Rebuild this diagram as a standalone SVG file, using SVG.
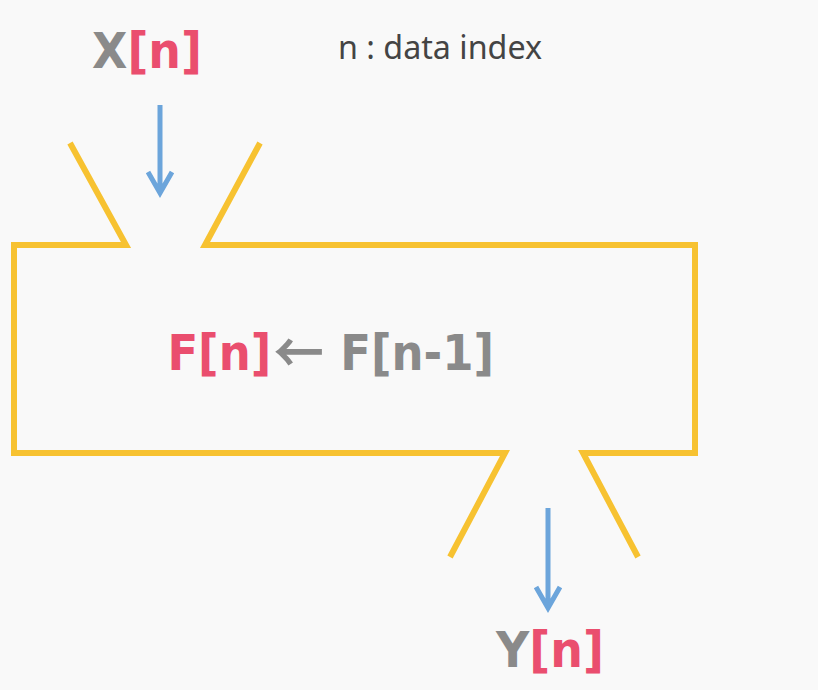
<svg xmlns="http://www.w3.org/2000/svg" width="818" height="690" viewBox="0 0 818 690">
<style>
.frame{fill:none;stroke:#F7C231;stroke-width:6;stroke-linejoin:miter}
.flow{fill:none;stroke:#6CA5DB;stroke-width:5;stroke-linecap:butt;stroke-linejoin:miter}
.big{font-family:"DejaVu Sans",sans-serif;font-weight:bold;font-size:50px}
.g{fill:#8A8A8A}
.p{fill:#EA4E6E}
.note{font-family:"Noto Sans","Open Sans",sans-serif;font-size:32px;fill:#444444}
.arr{font-family:"Noto Sans CJK KR","DejaVu Sans",sans-serif;font-weight:bold;font-size:56px;fill:#8A8A8A}
</style>
<rect x="0" y="0" width="818" height="690" fill="#F9F9F9"/>
<g id="block">
<polyline class="frame" points="70,143 126,245 14,245 14,453 505,453 450,557"/>
<polyline class="frame" points="260,143 205,245 695,245 695,453 583,453 638,557"/>
</g>
<g id="connectors">
<path class="flow" d="M160,105 V193 M148,172 L160,193 L172,172"/>
<path class="flow" d="M548,508 V608 M536,587 L548,608 L560,587"/>
</g>
<g id="input">
<text class="big" x="92" y="68" textLength="110" lengthAdjust="spacingAndGlyphs"><tspan class="g">X</tspan><tspan class="p">[n]</tspan></text>
</g>
<g id="note">
<text class="note" x="338" y="59" textLength="204" lengthAdjust="spacingAndGlyphs">n : data index</text>
</g>
<g id="state">
<text class="big" transform="scale(0.9,1)" y="370"><tspan class="p" x="186">F[n]</tspan><tspan class="arr" x="304" y="373">←</tspan><tspan class="g" x="378" y="370">F[n-1]</tspan></text>
</g>
<g id="output">
<text class="big" x="496" y="667" textLength="108" lengthAdjust="spacingAndGlyphs"><tspan class="g">Y</tspan><tspan class="p">[n]</tspan></text>
</g>
</svg>
